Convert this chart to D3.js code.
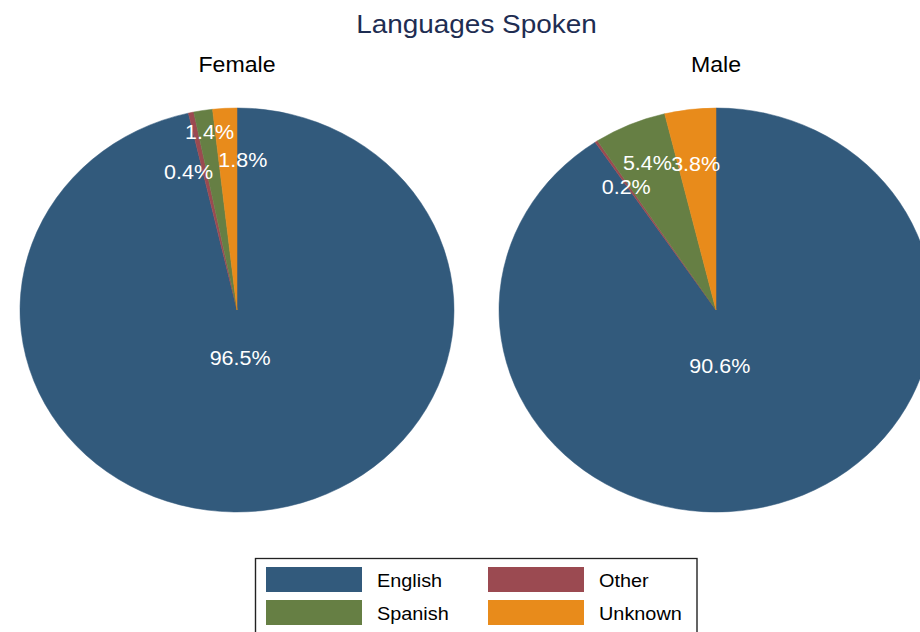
<!DOCTYPE html>
<html>
<head>
<meta charset="utf-8">
<script src="https://cdn.jsdelivr.net/npm/d3@7"></script>
<style>
  body { margin: 0; background: #fff; }
  text { font-family: "Liberation Sans", Arial, Helvetica, sans-serif; }
</style>
</head>
<body>
<div id="chart"></div>
<script>
// data
var languages = ["English", "Other", "Spanish", "Unknown"];
var groups = ["Female", "Male"];
var femaleShare = [96.5, 0.4, 1.4, 1.8];
var maleShare = [90.6, 0.2, 5.4, 3.8];

var svgWidth = 920;
var svgHeight = 632;

// the whole graph is stretched a little horizontally (round pies look oval)
var sx = 217 / 202;
function ix(x) { return x / sx; }

var radius = 202;
var cy = 310;

var colors = d3.scaleOrdinal()
  .domain(languages)
  .range(["#325a7c", "#9b4a51", "#667f44", "#e88b1b"]);

var svg = d3.select("#chart")
  .append("svg")
  .attr("width", svgWidth)
  .attr("height", svgHeight);

var root = svg.append("g")
  .attr("transform", `scale(${sx}, 1)`);

var xPie = d3.scalePoint()
  .domain(groups)
  .range([ix(237), ix(716)]);

// title
root.append("text")
  .attr("x", ix(476.5))
  .attr("y", 33)
  .attr("text-anchor", "middle")
  .attr("font-size", 26)
  .attr("fill", "#1e2d52")
  .text("Languages Spoken");

var pie = d3.pie().sort(null).value(d => d.value);
var arc = d3.arc().innerRadius(0).outerRadius(radius);

// label nudges, screen px
var nudge = {
  "Female English": [-3, -2], "Female Other": [-14, 10],
  "Female Spanish": [-2, -29], "Female Unknown": [15, 1],
  "Male English": [-12, 7], "Male Other": [0, 3],
  "Male Spanish": [-4, -8], "Male Unknown": [-1, 4]
};

var shares = { Female: femaleShare, Male: maleShare };

groups.forEach(function(g) {
  var rows = languages.map((l, i) => ({ lang: l, value: shares[g][i] }));
  var arcs = pie(rows);

  var pieGroup = root.append("g")
    .attr("transform", `translate(${xPie(g)}, ${cy})`);

  pieGroup.selectAll("path")
    .data(arcs)
    .enter()
    .append("path")
    .attr("d", arc)
    .attr("fill", d => colors(d.data.lang))
    .attr("stroke", d => colors(d.data.lang))
    .attr("stroke-width", 0.5);

  pieGroup.selectAll(".plabel")
    .data(arcs)
    .enter()
    .append("text")
    .attr("class", "plabel")
    .attr("transform", function(d) {
      var f = d.data.lang === "English" ? 0.25 : 0.75;
      var la = d3.arc().innerRadius(radius * f).outerRadius(radius * f);
      var c = la.centroid(d);
      var n = nudge[g + " " + d.data.lang];
      return `translate(${c[0] + n[0] / sx}, ${c[1] + n[1]})`;
    })
    .attr("dy", "0.36em")
    .attr("text-anchor", "middle")
    .attr("font-size", 20)
    .attr("fill", "#fff")
    .text(d => d.data.value.toFixed(1) + "%");

  root.append("text")
    .attr("x", xPie(g))
    .attr("y", 72)
    .attr("text-anchor", "middle")
    .attr("font-size", 21.5)
    .attr("fill", "#000")
    .text(g);
});

// legend
var legend = root.append("g");

legend.append("rect")
  .attr("x", ix(255.5))
  .attr("y", 558.5)
  .attr("width", ix(697) - ix(255.5))
  .attr("height", 100)
  .attr("fill", "#fff")
  .attr("stroke", "#222")
  .attr("stroke-width", 1.3);

var items = legend.selectAll(".item")
  .data(languages)
  .enter()
  .append("g")
  .attr("class", "item")
  .attr("transform", (d, i) => `translate(${ix(266 + (i % 2) * 222)}, ${567 + Math.floor(i / 2) * 33})`);

items.append("rect")
  .attr("width", ix(96))
  .attr("height", 25)
  .attr("fill", d => colors(d));

items.append("text")
  .attr("x", ix(111))
  .attr("y", 20)
  .attr("font-size", 18.5)
  .attr("fill", "#000")
  .text(d => d);
</script>
</body>
</html>
